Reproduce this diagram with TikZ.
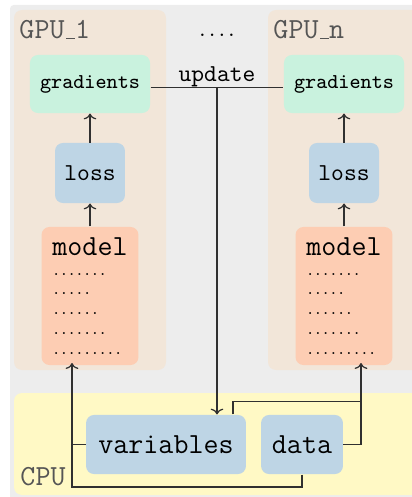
\documentclass[tikz,border=0pt]{standalone}
\usepackage{amsmath}
\usepackage{tikz}
\usetikzlibrary{arrows.meta}

\definecolor{bggrey}{HTML}{EDEDED}
\definecolor{gpubg}{HTML}{F2E6D9}
\definecolor{cpubg}{HTML}{FFF9C5}
\definecolor{gradc}{HTML}{C9F2DE}
\definecolor{lossc}{HTML}{BED5E5}
\definecolor{modelc}{HTML}{FDCDB3}
\definecolor{labc}{HTML}{555555}
\definecolor{linec}{HTML}{303030}
\newcommand{\gpubar}{\leavevmode\kern.06em\vbox{\hrule width.3em}}

\begin{document}
\begin{tikzpicture}[x=0.4115pt,y=-0.4115pt,
       >={Computer Modern Rightarrow[width=5.2pt,length=2.4pt]},
       box/.style={rounded corners=3.3pt,inner sep=0pt,font=\ttfamily},
       gradbox/.style={box,fill=gradc,minimum width=49.4pt,minimum height=23.9pt,
         font=\ttfamily\fontsize{8.7}{10}\selectfont},
       lossbox/.style={box,fill=lossc,minimum width=28.8pt,minimum height=24.7pt,
         font=\ttfamily\fontsize{10}{12}\selectfont},
       modelbox/.style={box,fill=modelc,minimum width=39.9pt,minimum height=56.8pt,
         align=left,font=\ttfamily\fontsize{6}{8.2}\selectfont},
       cpubox/.style={box,fill=lossc,minimum height=24.3pt,
         font=\ttfamily\fontsize{12}{14}\selectfont},
       grouplab/.style={anchor=base west,inner sep=0pt,text=labc,
         font=\ttfamily\fontsize{12}{14}\selectfont},
       wire/.style={draw=linec,line width=0.5pt}]
       \useasboundingbox (0,0) rectangle (412,497); \clip (0,0) rectangle (412,497);
       \fill[bggrey,rounded corners=1.5pt] (10,5) rectangle (440,520);
       \fill[gpubg,rounded corners=3.3pt] (14,10) rectangle (166,370);
       \fill[gpubg,rounded corners=3.3pt] (268,10) rectangle (420,370);
       \fill[cpubg,rounded corners=3.3pt] (14,393) rectangle (430,495);
       \node[grouplab] (lab1) at (19,39) {GPU\gpubar1};
       \node[grouplab] (labn) at (273,39) {GPU\gpubar n};
       \node[grouplab] (labcpu) at (20,485) {CPU};
       \node[inner sep=0pt,font=\ttfamily\fontsize{7.5}{8}\selectfont] (more) at (217,35) {....};
       % GPU_1
       \node[gradbox] (grad1) at (90,84) {gradients};
       \node[lossbox] (loss1) at (90,173) {loss};
       \node[modelbox] (model1) at (90,296) {{\fontsize{12}{12}\selectfont model}\\
         .......\\.....\\......\\.......\\.........};
       % GPU_n
       \node[gradbox] (gradn) at (344,84) {gradients};
       \node[lossbox] (lossn) at (344,173) {loss};
       \node[modelbox] (modeln) at (344,296) {{\fontsize{12}{12}\selectfont model}\\
         .......\\.....\\......\\.......\\.........};
       % CPU
       \node[cpubox,minimum width=65.8pt] (vars) at (166,444.5) {variables};
       \node[cpubox,minimum width=33.7pt] (data) at (302,444.5) {data};
       \draw[wire,->] (loss1) -- (grad1); \draw[wire,->] (model1) -- (loss1);
       \draw[wire,->] (lossn) -- (gradn); \draw[wire,->] (modeln) -- (lossn);
       \draw[wire] ([yshift=-1.6pt]grad1.east) -- ([yshift=-1.6pt]gradn.west);
       \coordinate (upd) at (217,88);
       \node[inner sep=0pt,anchor=base,font=\ttfamily\fontsize{10}{12}\selectfont]
       (updlab) at (217,82) {update};
       \draw[wire,->] (upd) -- (upd |- vars.north);
       \coordinate (low) at (72,487);
       \draw[wire,->] (vars.west) -| ([xshift=-7.4pt,yshift=1pt]model1.south);
       \draw[wire] (data.south) |- (low) -- (vars.west -| low);
       \draw[wire,->] ([xshift=27.6pt]vars.north) -- ++(0,-13) -| ([xshift=7pt,yshift=1pt]modeln.south);
       \draw[wire] (data.east) -| ([xshift=7pt]modeln.south);
\end{tikzpicture}
\end{document}
